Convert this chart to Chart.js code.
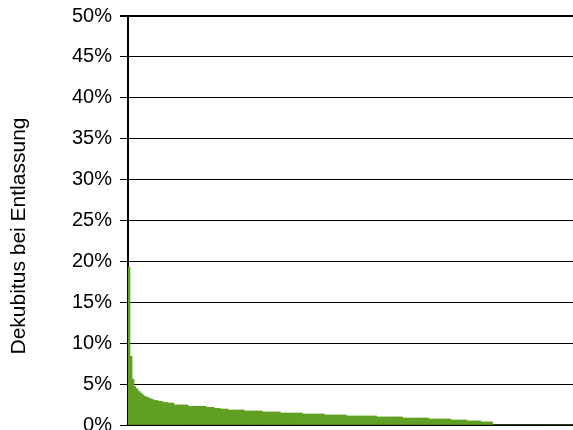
<!DOCTYPE html>
<html>
<head>
<meta charset="utf-8">
<script src="https://cdn.jsdelivr.net/npm/chart.js@4.4.0/dist/chart.umd.min.js"></script>
<style>
  body { margin: 0; background: #fff; }
  #wrap { width: 573px; height: 430px; }
</style>
</head>
<body>
<div id="wrap"><canvas id="barchart" width="573" height="430"></canvas></div>
<script>
// Dekubitus rate per hospital, sorted descending (in %)
const rates = [
  19.3, 8.4, 5.6, 4.7, 4.4, 4.1, 3.9, 3.7, 3.5, 3.4,
  3.3, 3.2, 3.1, 3.0, 3.0, 2.9, 2.9, 2.8, 2.75, 2.75,
  2.68, 2.68, 2.68,
  2.45, 2.45, 2.45, 2.45, 2.45, 2.45, 2.45,
  2.28, 2.28, 2.28, 2.28, 2.28, 2.28, 2.28, 2.28, 2.28,
  2.16, 2.16, 2.16, 2.16,
  2.04, 2.04, 2.04,
  1.95, 1.95, 1.95, 1.95,
  1.83, 1.83, 1.83, 1.83, 1.83, 1.83, 1.83, 1.83,
  1.71, 1.71, 1.71, 1.71, 1.71, 1.71, 1.71, 1.71, 1.71,
  1.59, 1.59, 1.59, 1.59, 1.59, 1.59, 1.59, 1.59, 1.59,
  1.46, 1.46, 1.46, 1.46, 1.46, 1.46, 1.46, 1.46, 1.46, 1.46, 1.46,
  1.34, 1.34, 1.34, 1.34, 1.34, 1.34, 1.34, 1.34, 1.34, 1.34, 1.34,
  1.22, 1.22, 1.22, 1.22, 1.22, 1.22, 1.22, 1.22, 1.22, 1.22, 1.22,
  1.10, 1.10, 1.10, 1.10, 1.10, 1.10, 1.10, 1.10, 1.10, 1.10, 1.10, 1.10, 1.10, 1.10, 1.10,
  0.98, 0.98, 0.98, 0.98, 0.98, 0.98, 0.98, 0.98, 0.98, 0.98, 0.98, 0.98, 0.98,
  0.85, 0.85, 0.85, 0.85, 0.85, 0.85, 0.85, 0.85, 0.85, 0.85, 0.85, 0.85, 0.85,
  0.73, 0.73, 0.73, 0.73, 0.73, 0.73, 0.73, 0.73, 0.73, 0.73, 0.73,
  0.61, 0.61, 0.61, 0.61, 0.61, 0.61, 0.61, 0.61,
  0.49, 0.49, 0.49, 0.49, 0.49, 0.49, 0.49,
  0.37, 0.37, 0.37, 0.37, 0.37, 0.37,
  0, 0, 0, 0, 0, 0, 0, 0, 0, 0,
  0, 0, 0, 0, 0, 0, 0, 0, 0, 0,
  0, 0, 0, 0, 0, 0, 0, 0, 0, 0,
  0, 0, 0, 0, 0, 0, 0, 0, 0, 0
];
// one category per hospital (rank)
const hospitals = rates.map((v, i) => String(i + 1));
const yTicks = [0, 5, 10, 15, 20, 25, 30, 35, 40, 45, 50];
const yTitle = 'Dekubitus bei Entlassung';

// y axis title, drawn a bit lower than the plot centre
const sideTitle = {
  id: 'sideTitle',
  afterDraw(chart) {
    const ctx = chart.ctx;
    ctx.save();
    ctx.font = '21px "Liberation Sans", Arial, sans-serif';
    ctx.fillStyle = '#000';
    ctx.textAlign = 'center';
    ctx.textBaseline = 'alphabetic';
    ctx.translate(25, 236);
    ctx.rotate(-Math.PI / 2);
    ctx.fillText(yTitle, 0, 0);
    ctx.restore();
  }
};

const ctx = document.getElementById('barchart').getContext('2d');

const config = {
  type: 'bar',
  data: {
    labels: hospitals,
    datasets: [{
      data: rates,
      backgroundColor: '#5fa023',
      borderWidth: 0,
      barPercentage: 1,
      categoryPercentage: 1
    }]
  },
  options: {
    responsive: false,
    animation: false,
    layout: { padding: { left: 0, right: 0, top: 16, bottom: 5 } },
    plugins: {
      legend: { display: false },
      tooltip: { enabled: false }
    },
    scales: {
      x: {
        z: 1,
        grid: { display: false, drawTicks: false },
        ticks: { display: false },
        border: { color: '#000', width: 2 },
        afterFit: (s) => { s.height = 0; s.paddingLeft = 0; s.paddingRight = 0; }
      },
      y: {
        min: 0,
        max: 50,
        afterBuildTicks: (s) => { s.ticks = yTicks.map(v => ({ value: v })); },
        ticks: {
          callback: (v) => v + '%',
          color: '#000',
          padding: 8,
          font: { family: '"Liberation Sans", Arial, sans-serif', size: 20 }
        },
        grid: {
          color: '#000',
          lineWidth: (c) => (c.tick && c.tick.value === 50) ? 2 : 1,
          tickLength: 8
        },
        border: { color: '#000', width: 2 },
        afterFit: (s) => { s.width = 128; s.paddingTop = 0; s.paddingBottom = 0; }
      }
    }
  },
  plugins: [sideTitle]
};

const myChart = new Chart(ctx, config);
</script>
</body>
</html>
